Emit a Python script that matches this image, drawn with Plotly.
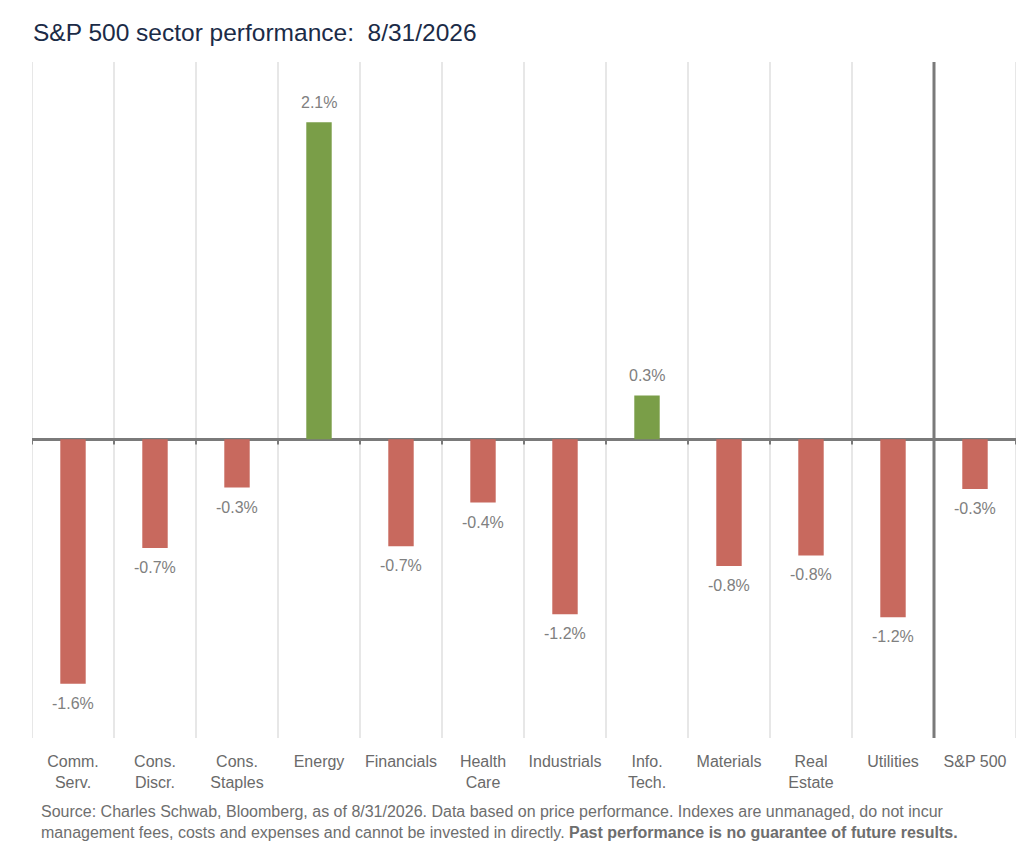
import plotly.graph_objects as go

# 資料：各類股表現 (%)
sectors = ["Comm.<br>Serv.", "Cons.<br>Discr.", "Cons.<br>Staples", "Energy", "Financials",
           "Health<br>Care", "Industrials", "Info.<br>Tech.", "Materials", "Real<br>Estate",
           "Utilities", "S&P 500"]
returns = [-1.62, -0.72, -0.32, 2.10, -0.71, -0.42, -1.16, 0.29, -0.84, -0.77, -1.18, -0.33]

POS = "#7a9e48"
NEG = "#c8695e"
GRID = "#cfcfcf"
DARK = "#7a7a7a"
FONT = "Liberation Sans, Arial, sans-serif"

x = list(range(len(sectors)))
colors = [POS if v >= 0 else NEG for v in returns]
labels = [f"{v:.1f}%" for v in returns]

fig = go.Figure(go.Bar(
    x=x, y=returns,
    marker=dict(color=colors, line=dict(width=0)),
    width=0.31,
))

# 數值標籤 (與柱子保留一點距離)
for xi, v, lab in zip(x, returns, labels):
    fig.add_annotation(
        x=xi, y=v, text=lab, showarrow=False,
        yanchor="bottom" if v >= 0 else "top",
        yshift=9 if v >= 0 else -9,
        font=dict(family=FONT, size=16, color="#808080"),
    )

# 類別分隔線 + 零軸上的小刻度
for i in range(len(sectors) + 1):
    fig.add_shape(type="line", xref="x", yref="paper",
                  x0=i - 0.5, x1=i - 0.5, y0=0, y1=1,
                  line=dict(color=GRID, width=1), layer="below")
    fig.add_shape(type="line", xref="x", yref="y",
                  x0=i - 0.5, x1=i - 0.5, y0=0, y1=-0.035,
                  line=dict(color=DARK, width=2))
# Utilities 與 S&P 500 之間的粗線
fig.add_shape(type="line", xref="x", yref="paper",
              x0=len(sectors) - 1.5, x1=len(sectors) - 1.5, y0=0, y1=1,
              line=dict(color=DARK, width=3), layer="above")

# 頁面 body 有 8px 邊距，故尺寸縮小 8px
fig.update_layout(
    width=1022, height=845,
    margin=dict(l=24, r=14, t=54, b=115),
    paper_bgcolor="white", plot_bgcolor="white",
    showlegend=False,
    font=dict(family=FONT),
    title=dict(text="S&P 500 sector performance:  8/31/2026",
               x=25 / 1022, xanchor="left", y=1 - 24 / 845, yanchor="middle",
               font=dict(family=FONT, size=24.5, color="#1b2b47")),
)

fig.update_xaxes(
    range=[-0.5, len(sectors) - 0.5],
    tickvals=x, ticktext=sectors,
    tickfont=dict(family=FONT, size=16, color="#6a6a6a"),
    ticklabelstandoff=12,
    showgrid=False, zeroline=False, showline=False, ticks="",
)
fig.update_yaxes(
    range=[-1.98, 2.5], showgrid=False, showticklabels=False,
    zeroline=True, zerolinecolor=DARK, zerolinewidth=3,
)

fig.add_annotation(
    xref="paper", yref="paper", x=0.007, y=-0.093, xanchor="left", yanchor="top",
    align="left", showarrow=False,
    text=("Source: Charles Schwab, Bloomberg, as of 8/31/2026. Data based on price performance. "
          "Indexes are unmanaged, do not incur<br>management fees, costs and expenses and cannot be "
          "invested in directly. <b>Past performance is no guarantee of future results.</b>"),
    font=dict(family=FONT, size=16, color="#6e6e6e"),
)

fig.write_html("out.html")
